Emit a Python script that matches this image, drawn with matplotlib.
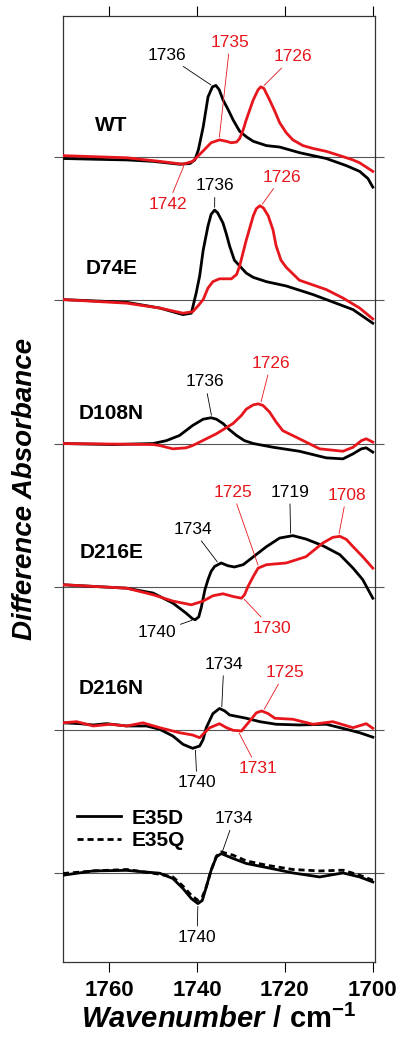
import numpy as np
import matplotlib.pyplot as plt
from matplotlib.lines import Line2D

plt.rcParams['font.family'] = ['Liberation Sans', 'DejaVu Sans']
plt.rcParams['mathtext.fontset'] = 'custom'
plt.rcParams['mathtext.rm'] = 'Liberation Sans:bold'
plt.rcParams['mathtext.it'] = 'Liberation Sans:italic:bold'
plt.rcParams['mathtext.bf'] = 'Liberation Sans:bold'

RED = '#e6161c'

# ---- spectra (wavenumber / difference absorbance, stacked by offset) ----
wt_black_wn = [1770.5, 1763.6, 1756.0, 1750.0, 1744.0, 1741.6, 1740.5, 1739.7, 1738.6, 1737.5,
               1736.5, 1735.7, 1734.95, 1734.1, 1732.9, 1731.8, 1730.3, 1728.7, 1727.2, 1724.2,
               1721.2, 1716.6, 1710.6, 1706.0, 1703.0, 1701.1, 1700.0]
wt_black = [-0.01, -0.015, -0.02, -0.03, -0.05, -0.045, -0.02, 0.05, 0.21, 0.42,
            0.49, 0.50, 0.47, 0.40, 0.33, 0.26, 0.18, 0.14, 0.11, 0.08,
            0.07, 0.03, -0.01, -0.06, -0.10, -0.15, -0.21]
wt_red_wn = [1770.5, 1756.0, 1748.5, 1743.2, 1741.0, 1738.7, 1736.8, 1734.9, 1733.3, 1732.2,
             1731.0, 1730.3, 1729.5, 1728.8, 1727.2, 1726.1, 1725.5, 1724.8, 1723.5, 1722.3,
             1721.2, 1719.7, 1718.2, 1715.9, 1713.6, 1710.6, 1707.5, 1704.5, 1703.0, 1701.5, 1700.0]
wt_red = [0.01, -0.005, -0.03, -0.05, -0.03, 0.04, 0.10, 0.12, 0.11, 0.10,
          0.105, 0.13, 0.19, 0.26, 0.40, 0.47, 0.49, 0.48, 0.40, 0.32,
          0.24, 0.17, 0.12, 0.08, 0.06, 0.04, 0.01, -0.02, -0.04, -0.07, -0.10]

d74e_black_wn = [1770.5, 1756.0, 1748.5, 1743.2, 1741.3, 1740.2, 1739.4, 1738.6, 1737.5, 1736.8,
                 1736.0, 1735.3, 1734.1, 1733.3, 1732.6, 1731.5, 1730.3, 1728.8, 1727.2, 1724.2,
                 1719.7, 1713.6, 1708.4, 1704.5, 1700.0]
d74e_black = [0.005, -0.014, -0.054, -0.10, -0.09, 0.05, 0.17, 0.35, 0.52, 0.60,
              0.63, 0.61, 0.54, 0.46, 0.38, 0.28, 0.24, 0.19, 0.16, 0.13,
              0.10, 0.04, -0.02, -0.065, -0.16]
d74e_red_wn = [1770.5, 1756.0, 1748.5, 1743.2, 1741.0, 1739.8, 1738.6, 1737.5, 1736.4, 1734.9,
               1732.2, 1731.0, 1730.3, 1728.8, 1727.2, 1726.5, 1725.7, 1724.9, 1723.8, 1722.7,
               1722.0, 1720.9, 1719.7, 1716.7, 1710.6, 1706.8, 1703.0, 1700.0]
d74e_red = [0.005, -0.02, -0.054, -0.09, -0.08, -0.04, 0.005, 0.086, 0.13, 0.15,
            0.15, 0.18, 0.24, 0.42, 0.59, 0.64, 0.66, 0.645, 0.59, 0.49,
            0.38, 0.28, 0.23, 0.14, 0.075, 0.016, -0.054, -0.13]

d108n_black_wn = [1770.5, 1759.1, 1750.0, 1747.0, 1744.0, 1741.0, 1738.6, 1736.8, 1735.6, 1734.1,
                  1732.6, 1731.0, 1729.2, 1727.2, 1722.7, 1716.7, 1710.6, 1706.8, 1704.5, 1702.6,
                  1701.5, 1700.0]
d108n_black = [0.0, -0.007, 0.0, 0.02, 0.056, 0.126, 0.17, 0.18, 0.17, 0.14,
               0.096, 0.056, 0.02, 0.0, -0.026, -0.054, -0.10, -0.107, -0.072, -0.037,
               -0.03, -0.06]
d108n_red_wn = [1770.5, 1750.0, 1748.5, 1745.5, 1742.5, 1741.0, 1739.4, 1735.6, 1731.8, 1729.9,
                1728.8, 1727.2, 1726.1, 1725.0, 1723.5, 1722.0, 1720.5, 1716.7, 1712.1, 1706.8,
                1704.5, 1702.6, 1701.5, 1700.0]
d108n_red = [0.0, -0.007, -0.014, -0.037, -0.03, -0.014, 0.01, 0.068, 0.14, 0.196,
             0.24, 0.27, 0.277, 0.266, 0.22, 0.15, 0.09, 0.033, -0.037, -0.054,
             -0.026, 0.02, 0.033, 0.01]

d216e_black_wn = [1770.5, 1756.0, 1750.0, 1745.5, 1742.5, 1741.0, 1740.4, 1739.6, 1739.0, 1738.2,
                  1737.5, 1736.8, 1736.0, 1734.5, 1733.0, 1731.5, 1729.5, 1728.0, 1724.2, 1721.2,
                  1718.2, 1715.2, 1711.4, 1707.5, 1704.5, 1702.3, 1700.0]
d216e_black = [0.014, -0.01, -0.044, -0.114, -0.184, -0.224, -0.23, -0.21, -0.14, -0.02,
               0.05, 0.107, 0.142, 0.166, 0.147, 0.138, 0.154, 0.19, 0.28, 0.34,
               0.357, 0.333, 0.287, 0.224, 0.13, 0.05, -0.08]
d216e_red_wn = [1770.5, 1756.0, 1750.0, 1745.5, 1741.3, 1738.6, 1736.4, 1734.1, 1731.8, 1729.9,
                1729.2, 1728.4, 1727.2, 1726.1, 1724.2, 1719.7, 1715.2, 1711.4, 1709.1, 1707.5,
                1706.0, 1704.5, 1702.3, 1700.0]
d216e_red = [0.014, -0.01, -0.056, -0.10, -0.126, -0.10, -0.063, -0.049, -0.068, -0.08,
             -0.056, 0.002, 0.072, 0.13, 0.154, 0.166, 0.21, 0.305, 0.345, 0.352,
             0.33, 0.28, 0.21, 0.13]

d216n_black_wn = [1770.5, 1766.6, 1763.6, 1760.6, 1756.0, 1751.5, 1748.5, 1745.5, 1743.2, 1741.0,
                  1739.4, 1738.6, 1737.9, 1736.4, 1734.9, 1733.7, 1732.6, 1728.8, 1725.7, 1722.0,
                  1716.7, 1710.6, 1706.0, 1703.0, 1700.0]
d216n_black = [0.05, 0.044, 0.035, 0.044, 0.028, 0.028, 0.005, -0.042, -0.10, -0.128,
               -0.112, -0.065, 0.016, 0.114, 0.15, 0.133, 0.105, 0.082, 0.058, 0.04,
               0.035, 0.04, 0.005, -0.019, -0.05]
d216n_red_wn = [1770.5, 1767.4, 1763.6, 1759.8, 1756.0, 1752.3, 1748.5, 1744.0, 1741.0, 1739.4,
                1738.3, 1737.1, 1734.9, 1733.3, 1731.8, 1729.9, 1728.0, 1726.5, 1725.3, 1723.8,
                1722.3, 1718.2, 1713.6, 1709.1, 1704.5, 1701.5, 1700.0]
d216n_red = [0.05, 0.058, 0.028, 0.04, 0.028, 0.05, 0.016, -0.019, -0.035, -0.054,
             -0.019, 0.016, 0.044, 0.016, -0.002, -0.007, 0.063, 0.12, 0.133, 0.114,
             0.082, 0.075, 0.04, 0.058, 0.016, 0.044, 0.012]

e35_wn = [1770.5, 1763.6, 1756.0, 1748.5, 1745.5, 1743.2, 1741.3, 1739.8, 1738.8, 1737.9,
          1736.8, 1735.6, 1734.5, 1731.8, 1728.8, 1724.2, 1718.2, 1712.1, 1706.8, 1703.0, 1700.0]
e35d = [-0.014, 0.016, 0.02, 0.0, -0.037, -0.107, -0.177, -0.212, -0.19, -0.096,
        0.02, 0.114, 0.137, 0.103, 0.068, 0.04, 0.002, -0.026, 0.002, -0.026, -0.061]
e35q = [-0.002, 0.016, 0.026, -0.007, -0.026, -0.09, -0.154, -0.19, -0.166, -0.096,
        0.02, 0.119, 0.149, 0.126, 0.086, 0.056, 0.026, 0.016, 0.021, -0.014, -0.049]

panel_names = ['WT', 'D74E', 'D108N', 'D216E', 'D216N', '']
offsets = [0, -1, -2, -3, -4, -5]
name_y = [0.22, 0.22, 0.21, 0.24, 0.29, 0]

curves = [
    # (panel, wn, values, colour, linestyle)
    (0, wt_black_wn, wt_black, 'k', '-'),
    (0, wt_red_wn, wt_red, RED, '-'),
    (1, d74e_black_wn, d74e_black, 'k', '-'),
    (1, d74e_red_wn, d74e_red, RED, '-'),
    (2, d108n_black_wn, d108n_black, 'k', '-'),
    (2, d108n_red_wn, d108n_red, RED, '-'),
    (3, d216e_black_wn, d216e_black, 'k', '-'),
    (3, d216e_red_wn, d216e_red, RED, '-'),
    (4, d216n_black_wn, d216n_black, 'k', '-'),
    (4, d216n_red_wn, d216n_red, RED, '-'),
    (5, e35_wn, e35q, 'k', (0, (2.2, 1.4))),
    (5, e35_wn, e35d, 'k', '-'),
]

# peak labels: (text, curve index, peak wavenumber, label wavenumber, label height)
peak_labels = [
    ('1736', 0, 1736.3, 1746.9, 0.71),
    ('1735', 1, 1735.0, 1732.5, 0.80),
    ('1726', 1, 1725.2, 1718.2, 0.70),
    ('1742', 1, 1742.8, 1746.6, -0.33),
    ('1736', 2, 1736.0, 1735.95, 0.80),
    ('1726', 3, 1725.5, 1720.7, 0.86),
    ('1736', 4, 1736.6, 1738.2, 0.43),
    ('1726', 5, 1725.6, 1723.2, 0.56),
    ('1725', 7, 1725.9, 1731.9, 0.66),
    ('1719', 6, 1718.7, 1718.9, 0.66),
    ('1708', 7, 1707.8, 1706.0, 0.64),
    ('1734', 6, 1735.0, 1741.0, 0.40),
    ('1740', 6, 1740.6, 1749.1, -0.32),
    ('1730', 7, 1729.7, 1723.0, -0.29),
    ('1734', 8, 1734.4, 1733.9, 0.46),
    ('1725', 9, 1725.0, 1720.0, 0.40),
    ('1740', 8, 1740.4, 1740.0, -0.37),
    ('1731', 9, 1730.7, 1726.2, -0.27),
    ('1734', 11, 1734.4, 1731.6, 0.38),
    ('1740', 11, 1739.8, 1740.0, -0.45),
]

fig = plt.figure(figsize=(4.07, 10.38), dpi=100)
ax = fig.add_axes([0.1548, 0.0732, 0.7666, 0.9114])

for off in offsets:
    ax.axhline(off, color='#555555', lw=0.8, zorder=1, clip_on=False)

for panel, wn, vals, col, ls in curves:
    ax.plot(wn, np.array(vals) + offsets[panel], color=col, ls=ls, lw=2.0,
            solid_joinstyle='round', zorder=3)

for name, off, ny in zip(panel_names, offsets, name_y):
    if name:
        ax.text(1759.5, off + ny, name, ha='center', va='center',
                fontsize=15, fontweight='bold')

for text, ci, peak, tx, ty in peak_labels:
    panel, wn, vals, col, _ = curves[ci]
    off = offsets[panel]
    yv = np.interp(peak, wn[::-1], vals[::-1]) + off
    ax.annotate(text, xy=(peak, yv), xytext=(tx, ty + off), color=col,
                fontsize=12.5, ha='center', va='center',
                arrowprops=dict(arrowstyle='-', color=col, lw=0.6,
                                shrinkA=1, shrinkB=2))

legend_handles = [Line2D([], [], color='k', lw=2.0),
                  Line2D([], [], color='k', lw=2.0, ls=(0, (2.2, 1.4)))]
ax.legend(legend_handles, ['E35D', 'E35Q'], loc='upper left',
          bbox_to_anchor=(0.045, 0.162), borderaxespad=0, borderpad=0,
          frameon=False, handlelength=2.1, handletextpad=0.5, labelspacing=0.15,
          prop=dict(size=15, weight='bold'))

ax.set_xlim(1770.5, 1699.5)
ax.set_ylim(-5.62, 0.985)
ax.set_xticks([1760, 1740, 1720, 1700])
ax.set_yticks(offsets)
ax.set_yticklabels([])
ax.tick_params(axis='x', which='both', direction='out', top=True, length=7,
               width=0.8, labelsize=16, pad=6)
ax.tick_params(axis='y', direction='out', left=True, right=True, length=6.5,
               width=0.8, color='#555555')
for lab in ax.get_xticklabels():
    lab.set_fontweight('bold')
for sp in ax.spines.values():
    sp.set_linewidth(0.9)
    sp.set_color('#333333')

ax.set_xlabel(r'$\mathit{Wavenumber\ /}\ \mathrm{cm^{-1}}$', fontsize=21, labelpad=3)
ax.set_ylabel('Difference Absorbance', fontsize=20, fontweight='bold',
              fontstyle='italic', labelpad=8)

fig.savefig('out.png', dpi=100)
